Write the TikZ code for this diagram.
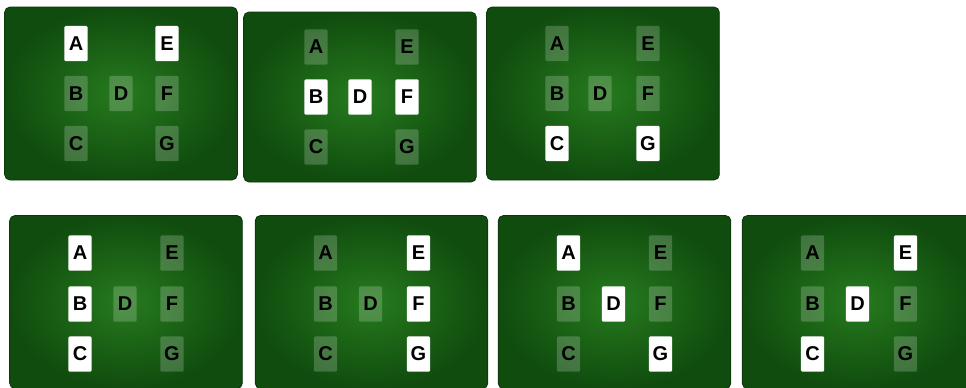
\documentclass[tikz,border=0pt]{standalone}
\usepackage{fontspec}
\newfontfamily\cellfont{Liberation Sans}
\definecolor{boardin}{RGB}{38,122,30}
\definecolor{boardout}{RGB}{16,76,14}
\definecolor{boardline}{RGB}{10,52,10}

\begin{document}
\begin{tikzpicture}[
    x=0.75pt, y=-0.75pt,
    board/.style={rectangle, rounded corners=4pt, draw=boardline, line width=0.6pt,
        inner color=boardin, outer color=boardout,
        minimum width=174.5pt, minimum height=129.75pt, inner sep=0pt},
    cell/.style={rectangle, rounded corners=1pt, minimum width=17.5pt, minimum height=26.5pt,
        inner sep=0pt, font=\cellfont\bfseries\fontsize{15}{15}\selectfont, text=black},
    lit/.style={cell, fill=white},
    dim/.style={cell, fill=white, fill opacity=0.2, text opacity=1}
]
\useasboundingbox (0,0) rectangle (966,387);

% Top row, board 1
\begin{scope}[shift={(121,93.5)}, name prefix=p1-]
    \node[board] (board) at (0,0) {};
    \node[lit] (A) at (-45,-50) {A};
    \node[dim] (B) at (-45,0) {B};
    \node[dim] (C) at (-45,50) {C};
    \node[dim] (D) at (0,0) {D};
    \node[lit] (E) at (46,-50) {E};
    \node[dim] (F) at (46,0) {F};
    \node[dim] (G) at (46,50) {G};
\end{scope}

% Top row, board 2
\begin{scope}[shift={(360,97)}, name prefix=p2-]
    \node[board, minimum height=127.5pt] (board) at (0,0) {};
    \node[dim] (A) at (-44,-50) {A};
    \node[lit] (B) at (-44,0) {B};
    \node[dim] (C) at (-44,50) {C};
    \node[lit] (D) at (0,0) {D};
    \node[dim] (E) at (47,-50) {E};
    \node[lit] (F) at (47,0) {F};
    \node[dim] (G) at (47,50) {G};
\end{scope}

% Top row, board 3
\begin{scope}[shift={(603,93.5)}, name prefix=p3-]
    \node[board] (board) at (0,0) {};
    \node[dim] (A) at (-46,-50) {A};
    \node[dim] (B) at (-46,0) {B};
    \node[lit] (C) at (-46,50) {C};
    \node[dim] (D) at (-3,0) {D};
    \node[dim] (E) at (45,-50) {E};
    \node[dim] (F) at (45,0) {F};
    \node[lit] (G) at (45,50) {G};
\end{scope}

% Bottom row, board 4
\begin{scope}[shift={(126,302)}, name prefix=p4-]
    \node[board] (board) at (0,0) {};
    \node[lit] (A) at (-46,-49) {A};
    \node[lit] (B) at (-46,2) {B};
    \node[lit] (C) at (-46,52) {C};
    \node[dim] (D) at (-1,2) {D};
    \node[dim] (E) at (46,-49) {E};
    \node[dim] (F) at (46,2) {F};
    \node[dim] (G) at (46,52) {G};
\end{scope}

% Bottom row, board 5
\begin{scope}[shift={(371.5,302)}, name prefix=p5-]
    \node[board] (board) at (0,0) {};
    \node[dim] (A) at (-46,-49) {A};
    \node[dim] (B) at (-46,2) {B};
    \node[dim] (C) at (-46,52) {C};
    \node[dim] (D) at (-1,2) {D};
    \node[lit] (E) at (47,-49) {E};
    \node[lit] (F) at (47,2) {F};
    \node[lit] (G) at (47,52) {G};
\end{scope}

% Bottom row, board 6
\begin{scope}[shift={(614.5,302)}, name prefix=p6-]
    \node[board] (board) at (0,0) {};
    \node[lit] (A) at (-46,-49) {A};
    \node[dim] (B) at (-46,2) {B};
    \node[dim] (C) at (-46,52) {C};
    \node[lit] (D) at (-1,2) {D};
    \node[dim] (E) at (46,-49) {E};
    \node[dim] (F) at (46,2) {F};
    \node[lit] (G) at (46,52) {G};
\end{scope}

% Bottom row, board 7
\begin{scope}[shift={(858.5,302)}, name prefix=p7-]
    \node[board] (board) at (0,0) {};
    \node[dim] (A) at (-46,-49) {A};
    \node[dim] (B) at (-46,2) {B};
    \node[lit] (C) at (-46,52) {C};
    \node[lit] (D) at (-1,2) {D};
    \node[lit] (E) at (47,-49) {E};
    \node[dim] (F) at (47,2) {F};
    \node[dim] (G) at (47,52) {G};
\end{scope}

\end{tikzpicture}
\end{document}
